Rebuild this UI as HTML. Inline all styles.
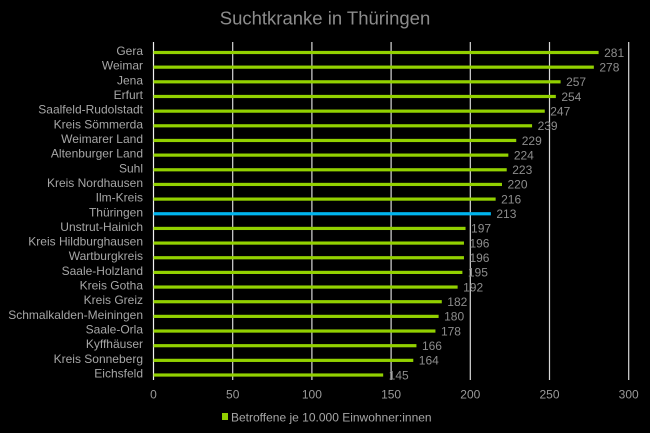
<!DOCTYPE html>
<html><head><meta charset="utf-8"><style>
html,body{margin:0;padding:0;background:#000;}
svg{display:block;}
text{font-family:"Liberation Sans",Arial,sans-serif;}
</style></head><body>
<svg width="650" height="433" viewBox="0 0 650 433" xmlns="http://www.w3.org/2000/svg">
<rect width="650" height="433" fill="#000"/>
<text x="325" y="24.5" font-size="18.5" fill="#8c8c8c" text-anchor="middle">Suchtkranke in Thüringen</text>
<g stroke="#d9d9d9" stroke-width="1.2">
<line x1="153.5" y1="42" x2="153.5" y2="380" stroke="#f2f2f2"/>
<line x1="232.7" y1="42" x2="232.7" y2="380"/>
<line x1="311.9" y1="42" x2="311.9" y2="380"/>
<line x1="391.1" y1="42" x2="391.1" y2="380"/>
<line x1="470.3" y1="42" x2="470.3" y2="380"/>
<line x1="549.5" y1="42" x2="549.5" y2="380"/>
<line x1="628.7" y1="42" x2="628.7" y2="380"/>
</g>
<g font-size="12" fill="#999" text-anchor="middle">
<text x="153.5" y="398.5">0</text>
<text x="232.7" y="398.5">50</text>
<text x="311.9" y="398.5">100</text>
<text x="391.1" y="398.5">150</text>
<text x="470.3" y="398.5">200</text>
<text x="549.5" y="398.5">250</text>
<text x="628.7" y="398.5">300</text>
</g>
<g fill="#92d000">
<rect x="153.5" y="50.9" width="445.1" height="3.2"/>
<rect x="153.5" y="65.56" width="440.35" height="3.2"/>
<rect x="153.5" y="80.22" width="407.09" height="3.2"/>
<rect x="153.5" y="94.88" width="402.34" height="3.2"/>
<rect x="153.5" y="109.54" width="391.25" height="3.2"/>
<rect x="153.5" y="124.2" width="378.58" height="3.2"/>
<rect x="153.5" y="138.86" width="362.74" height="3.2"/>
<rect x="153.5" y="153.52" width="354.82" height="3.2"/>
<rect x="153.5" y="168.18" width="353.23" height="3.2"/>
<rect x="153.5" y="182.84" width="348.48" height="3.2"/>
<rect x="153.5" y="197.5" width="342.14" height="3.2"/>
<rect x="153.5" y="212.16" width="337.39" height="3.2" fill="#00b4ee"/>
<rect x="153.5" y="226.82" width="312.05" height="3.2"/>
<rect x="153.5" y="241.48" width="310.46" height="3.2"/>
<rect x="153.5" y="256.14" width="310.46" height="3.2"/>
<rect x="153.5" y="270.8" width="308.88" height="3.2"/>
<rect x="153.5" y="285.46" width="304.13" height="3.2"/>
<rect x="153.5" y="300.12" width="288.29" height="3.2"/>
<rect x="153.5" y="314.78" width="285.12" height="3.2"/>
<rect x="153.5" y="329.44" width="281.95" height="3.2"/>
<rect x="153.5" y="344.1" width="262.94" height="3.2"/>
<rect x="153.5" y="358.76" width="259.78" height="3.2"/>
<rect x="153.5" y="373.42" width="229.68" height="3.2"/>
</g>
<g font-size="12" fill="#a6a6a6" text-anchor="end">
<text x="143" y="55">Gera</text>
<text x="143" y="69.66">Weimar</text>
<text x="143" y="84.32">Jena</text>
<text x="143" y="98.98">Erfurt</text>
<text x="143" y="113.64">Saalfeld-Rudolstadt</text>
<text x="143" y="128.3">Kreis Sömmerda</text>
<text x="143" y="142.96">Weimarer Land</text>
<text x="143" y="157.62">Altenburger Land</text>
<text x="143" y="172.28">Suhl</text>
<text x="143" y="186.94">Kreis Nordhausen</text>
<text x="143" y="201.6">Ilm-Kreis</text>
<text x="143" y="216.26">Thüringen</text>
<text x="143" y="230.92">Unstrut-Hainich</text>
<text x="143" y="245.58">Kreis Hildburghausen</text>
<text x="143" y="260.24">Wartburgkreis</text>
<text x="143" y="274.9">Saale-Holzland</text>
<text x="143" y="289.56">Kreis Gotha</text>
<text x="143" y="304.22">Kreis Greiz</text>
<text x="143" y="318.88">Schmalkalden-Meiningen</text>
<text x="143" y="333.54">Saale-Orla</text>
<text x="143" y="348.2">Kyffhäuser</text>
<text x="143" y="362.86">Kreis Sonneberg</text>
<text x="143" y="377.52">Eichsfeld</text>
</g>
<g font-size="12" fill="#8c8c8c">
<text x="604.1" y="56.8">281</text>
<text x="599.35" y="71.46">278</text>
<text x="566.09" y="86.12">257</text>
<text x="561.34" y="100.78">254</text>
<text x="550.25" y="115.44">247</text>
<text x="537.58" y="130.1">239</text>
<text x="521.74" y="144.76">229</text>
<text x="513.82" y="159.42">224</text>
<text x="512.23" y="174.08">223</text>
<text x="507.48" y="188.74">220</text>
<text x="501.14" y="203.4">216</text>
<text x="496.39" y="218.06">213</text>
<text x="471.05" y="232.72">197</text>
<text x="469.46" y="247.38">196</text>
<text x="469.46" y="262.04">196</text>
<text x="467.88" y="276.7">195</text>
<text x="463.13" y="291.36">192</text>
<text x="447.29" y="306.02">182</text>
<text x="444.12" y="320.68">180</text>
<text x="440.95" y="335.34">178</text>
<text x="421.94" y="350">166</text>
<text x="418.78" y="364.66">164</text>
<text x="388.68" y="379.32">145</text>
</g>
<rect x="222" y="413" width="6" height="7" fill="#92d000"/>
<text x="231" y="421.5" font-size="12" fill="#a6a6a6">Betroffene je 10.000 Einwohner:innen</text>
</svg>
</body></html>
